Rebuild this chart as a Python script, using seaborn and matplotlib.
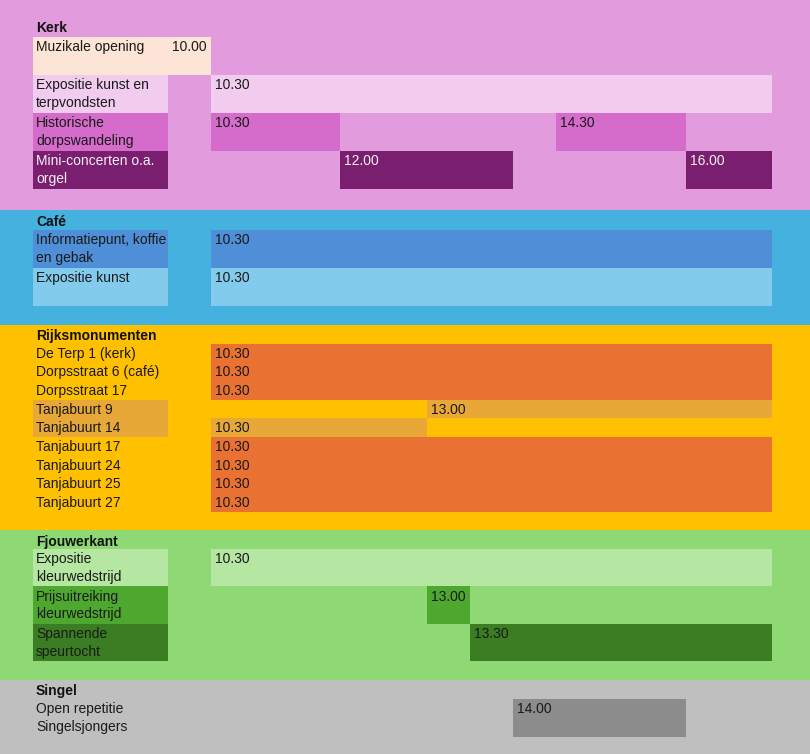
import matplotlib
matplotlib.use("Agg")
import matplotlib.pyplot as plt
import seaborn as sns

# data
sections = ["Kerk", "Café", "Rijksmonumenten", "Fjouwerkant", "Singel"]

kerk_rows = ["Muzikale opening", "Expositie kunst en\nterpvondsten",
             "Historische\ndorpswandeling", "Mini-concerten o.a.\norgel"]
cafe_rows = ["Informatiepunt, koffie\nen gebak", "Expositie kunst"]
rijks_rows = ["De Terp 1 (kerk)", "Dorpsstraat 6 (café)", "Dorpsstraat 17",
              "Tanjabuurt 9", "Tanjabuurt 14", "Tanjabuurt 17", "Tanjabuurt 24",
              "Tanjabuurt 25", "Tanjabuurt 27"]
fjouw_rows = ["Expositie\nkleurwedstrijd", "Prijsuitreiking\nkleurwedstrijd",
              "Spannende\nspeurtocht"]
singel_rows = ["Open repetitie\nSingelsjongers"]
section_rows = [kerk_rows, cafe_rows, rijks_rows, fjouw_rows, singel_rows]

bar_activity = ["Muzikale opening", "Expositie kunst en\nterpvondsten",
                "Historische\ndorpswandeling", "Historische\ndorpswandeling",
                "Mini-concerten o.a.\norgel", "Mini-concerten o.a.\norgel",
                "Informatiepunt, koffie\nen gebak", "Expositie kunst",
                "De Terp 1 (kerk)", "Dorpsstraat 6 (café)", "Dorpsstraat 17",
                "Tanjabuurt 9", "Tanjabuurt 14", "Tanjabuurt 17", "Tanjabuurt 24",
                "Tanjabuurt 25", "Tanjabuurt 27",
                "Expositie\nkleurwedstrijd", "Prijsuitreiking\nkleurwedstrijd",
                "Spannende\nspeurtocht", "Open repetitie\nSingelsjongers"]
bar_start = ["10.00", "10.30", "10.30", "14.30", "12.00", "16.00",
             "10.30", "10.30",
             "10.30", "10.30", "10.30", "13.00", "10.30", "10.30", "10.30",
             "10.30", "10.30",
             "10.30", "13.00", "13.30", "14.00"]
bar_end = ["10.30", "17.00", "12.00", "16.00", "14.00", "17.00",
           "17.00", "17.00",
           "17.00", "17.00", "17.00", "17.00", "13.00", "17.00", "17.00",
           "17.00", "17.00",
           "17.00", "13.30", "17.00", "16.00"]

# styles
section_bg = {"Kerk": "#E29CDD", "Café": "#44B1DF", "Rijksmonumenten": "#FFC000",
              "Fjouwerkant": "#8FD974", "Singel": "#BFBFBF"}
row_height = {"Kerk": 38, "Café": 38, "Rijksmonumenten": 18.67,
              "Fjouwerkant": 37.33, "Singel": 38}
act_color = {
    "Muzikale opening": "#FCE4D6",
    "Expositie kunst en\nterpvondsten": "#F1CCEE",
    "Historische\ndorpswandeling": "#D56BCA",
    "Mini-concerten o.a.\norgel": "#7A1F6F",
    "Informatiepunt, koffie\nen gebak": "#4E8FD7",
    "Expositie kunst": "#83CBEC",
    "Tanjabuurt 9": "#E8A838",
    "Tanjabuurt 14": "#E8A838",
    "Expositie\nkleurwedstrijd": "#B5E6A2",
    "Prijsuitreiking\nkleurwedstrijd": "#4EA72E",
    "Spannende\nspeurtocht": "#3B7D22",
    "Open repetitie\nSingelsjongers": "#8C8C8C",
}
default_bar = "#E97132"
shaded_label = set(act_color) - {"Open repetitie\nSingelsjongers"}
light_text = {"Mini-concerten o.a.\norgel"}


def to_hours(s):
    h, m = s.split(".")
    return int(h) + int(m) / 60


sns.set_theme(style="white")
plt.rcParams["font.family"] = ["Liberation Sans", "DejaVu Sans"]

W, H = 810, 754
PX = 86.3  # pixels per hour
x_left = 10.5 - 211 / PX
x_right = 10.5 + (W - 211) / PX
label_left = 10.5 - (211 - 33) / PX
label_text = 10.5 - (211 - 36) / PX
pad_x = 4 / PX

fig = plt.figure(figsize=(W / 100, H / 100), dpi=100)
ax = fig.add_axes([0, 0, 1, 1])
ax.set_xlim(x_left, x_right)
ax.set_ylim(H, 0)
ax.axis("off")

# layout rows
row_top = {}
row_h = {}
y = 17.0
spans = []
for name, rows in zip(sections, section_rows):
    sec_top = 0.0 if name == sections[0] else y
    ax.text(label_text, y + 4.5, name, fontsize=10, fontweight="bold",
            color="#111111", va="top", ha="left")
    y += 20.0 if name in ("Kerk", "Café") else 19.0
    for r in rows:
        row_top[r] = y
        row_h[r] = row_height[name]
        y += row_height[name]
    y += 21.0 if name == "Kerk" else 18.5
    sec_bottom = H if name == sections[-1] else y
    spans.append((sec_top, sec_bottom, section_bg[name]))

for top, bottom, c in spans:
    ax.axhspan(top, bottom, color=c, lw=0, zorder=0)

# label cells and labels
for name, rows in zip(sections, section_rows):
    for r in rows:
        t = row_top[r]
        h = row_h[r]
        if r in shaded_label:
            ax.barh(t + h / 2, 10.0 - label_left, left=label_left, height=h,
                    color=act_color[r], lw=0, zorder=1)
        tc = "#F4F0F4" if r in light_text else "#1A1A1A"
        ax.text(label_text, t + 3.2, r, fontsize=10, color=tc, va="top",
                ha="left", linespacing=1.35, zorder=3)

# bars with start times
for a, s, e in zip(bar_activity, bar_start, bar_end):
    t = row_top[a]
    h = row_h[a]
    x0 = to_hours(s)
    x1 = to_hours(e)
    ax.barh(t + h / 2, x1 - x0, left=x0, height=h,
            color=act_color.get(a, default_bar), lw=0, zorder=1)
    tc = "#F4F0F4" if a in light_text else "#1A1A1A"
    ax.text(x0 + pad_x, t + 3.2, s, fontsize=10, color=tc, va="top",
            ha="left", zorder=3)

fig.savefig("out.png", dpi=100)
